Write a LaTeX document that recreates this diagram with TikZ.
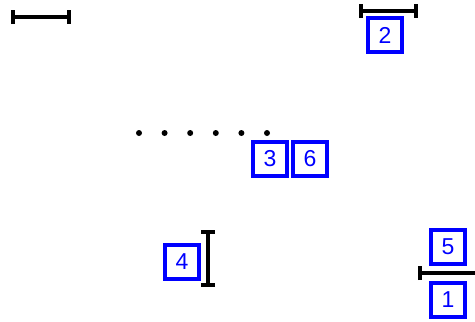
\documentclass[tikz,border=0pt]{standalone}
\usepackage{fontspec}
\setmainfont{Liberation Sans}
\usetikzlibrary{arrows.meta}

\begin{document}
\begin{tikzpicture}[x=1pt,y=-1pt,
        numbox/.style={shape=rectangle,draw=blue,line width=3.2pt,minimum width=34pt,minimum height=34pt,inner sep=0pt,text=blue,font=\fontsize{23}{23}\selectfont},
        span/.style={line width=3.6pt,{Bar[width=14pt,line width=3.6pt]}-{Bar[width=14pt,line width=3.6pt]}},
        halfspan/.style={line width=3.6pt,{Bar[width=14pt,line width=3.6pt]}-}]
        \useasboundingbox (0,0) rectangle (475,322);

        \node[numbox] (B1) at (448,300) {1};
        \node[numbox] (B2) at (385,35) {2};
        \node[numbox] (B3) at (270,159) {3};
        \node[numbox] (B4) at (182,262) {4};
        \node[numbox] (B5) at (448,247) {5};
        \node[numbox] (B6) at (310,159) {6};

        \coordinate (TLa) at (11,17);
        \coordinate (TLb) at (71,17);
        \coordinate (TRa) at (359,11);
        \coordinate (TRb) at (418,11);
        \coordinate (Va) at (208,230);
        \coordinate (Vb) at (208,287);
        \coordinate (Ha) at (418,273);
        \coordinate (Hb) at (476,273);

        \draw [span] (TLa) -- (TLb);
        \draw [span] (TRa) -- (TRb);
        \draw [span] (Va) -- (Vb);
        \draw [halfspan] (Ha) -- (Hb);

        \foreach \i in {0,...,5}
            \fill (139+25.6*\i,133) circle (3pt);
    \end{tikzpicture}
\end{document}
